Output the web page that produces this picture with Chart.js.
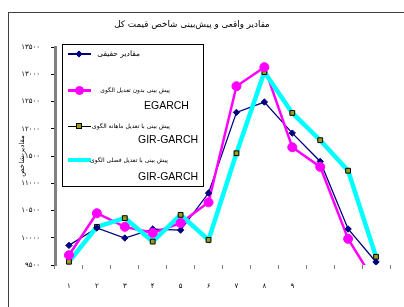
<!DOCTYPE html>
<html>
<head>
<meta charset="utf-8">
<script src="https://cdn.jsdelivr.net/npm/chart.js@4/dist/chart.umd.min.js"></script>
<style>
  html, body { margin: 0; padding: 0; background: #fff; }
  #wrap { position: relative; width: 404px; height: 307px; overflow: hidden; background: #fff; }
  #c { position: absolute; left: 0; top: 0; }
  #frame { position: absolute; left: 8px; top: 12px; width: 420px; height: 320px; border-left: 1px solid #404040; border-top: 1px solid #404040; }
  .fa { font-family: "DejaVu Sans", sans-serif; font-size: 6px; color: #000; white-space: nowrap; direction: rtl; position: absolute; line-height: 1; }
  .la { font-family: "Liberation Sans", Arial, sans-serif; font-size: 10.5px; color: #000; white-space: nowrap; position: absolute; line-height: 1; }
  #title { position: absolute; top: 19px; left: 0; width: 384px; text-align: center; font-family: "DejaVu Sans", sans-serif; font-size: 8.8px; direction: rtl; white-space: nowrap; }
  #legend { position: absolute; left: 62px; top: 44px; width: 142px; height: 143px; box-sizing: border-box; border: 1px solid #000; background: #fff; }
  .ln { position: absolute; }
  .mk { position: absolute; box-sizing: border-box; }
</style>
</head>
<body>
<div id="wrap">
  <canvas id="c" width="404" height="307"></canvas>
  <div id="frame"></div>
  <div id="title">مقادیر واقعی و پیش‌بینی شاخص قیمت کل</div>
  <div id="legend"></div>
</div>
<script>
// ---- data ----
const categories = ['۱','۲','۳','۴','۵','۶','۷','۸','۹','','',''];
const yTickLabels = ['۹۵۰۰','۱۰۰۰۰','۱۰۵۰۰','۱۱۰۰۰','۱۱۵۰۰','۱۲۰۰۰','۱۲۵۰۰','۱۳۰۰۰','۱۳۵۰۰'];
const actualValues   = [9860, 10180, 9995, 10160, 10140, 10820, 12300, 12490, 11920, 11400, 10160, 9555];
const egarchValues   = [9680, 10450, 10200, 10090, 10270, 10650, 12780, 13130, 11660, 11300, 9980, 9150];
const monthlyValues  = [9560, 10200, 10360, 9930, 10420, 9960, 11550, 13040, 12290, 11790, 11230, 9650];
const seasonalValues = [9560, 10200, 10360, 9930, 10420, 9960, 11550, 13040, 12290, 11790, 11230, 9650];
const seriesNames = [
  ['مقادیر حقیقی', ''],
  ['پیش بینی بدون تعدیل الگوی', 'EGARCH'],
  ['پیش بینی با تعدیل ماهانه الگوی', 'GIR-GARCH'],
  ['پیش بینی با تعدیل فصلی الگوی', 'GIR-GARCH']
];
const yTitle = 'مقادیر شاخص';

const NAVY = '#000080', MAG = '#FF00FF', CYAN = '#00FFFF', BLK = '#000000', OLIVE = '#9C9C1C';

const lineOnly = (data, color, w, order) => ({
  data, borderColor: color, backgroundColor: color, borderWidth: w,
  pointRadius: 0, pointHoverRadius: 0, tension: 0, order
});
const markOnly = (data, style, r, fill, border, bw) => ({
  data, showLine: false, pointStyle: style, pointRadius: r, pointHoverRadius: r,
  pointBackgroundColor: fill, pointBorderColor: border, pointBorderWidth: bw,
  borderColor: border, backgroundColor: fill, order: 0
});

new Chart(document.getElementById('c'), {
  type: 'line',
  data: {
    labels: categories,
    datasets: [
      markOnly(egarchValues, 'circle', 4.5, MAG, MAG, 1),
      markOnly(actualValues, 'rectRot', 3.2, NAVY, NAVY, 1),
      markOnly(monthlyValues, 'rect', 3.4, OLIVE, BLK, 1),
      lineOnly(seasonalValues, CYAN, 4.5, 1),
      lineOnly(monthlyValues, BLK, 1, 2),
      lineOnly(egarchValues, MAG, 2.5, 3),
      lineOnly(actualValues, NAVY, 1.3, 4)
    ]
  },
  options: {
    responsive: false,
    animation: false,
    devicePixelRatio: 1,
    layout: { padding: { top: 47, right: 14, bottom: 0, left: 0 } },
    plugins: { legend: { display: false }, title: { display: false }, tooltip: { enabled: false } },
    scales: {
      x: {
        type: 'category',
        offset: true,
        afterFit: s => { s.height = 42; },
        grid: { display: true, drawOnChartArea: false, offset: true, tickLength: 4, color: '#808080', lineWidth: 1 },
        border: { display: false },
        ticks: { font: { family: 'DejaVu Sans', size: 7 }, color: '#000', padding: 13, maxRotation: 0, autoSkip: false }
      },
      y: {
        min: 9500, max: 13500,
        afterFit: s => { s.width = 55; },
        grid: { display: true, drawOnChartArea: false, tickLength: 4, color: '#000', lineWidth: 1 },
        border: { display: true, color: '#808080', width: 3 },
        ticks: {
          stepSize: 500, padding: 11,
          font: { family: 'DejaVu Sans', size: 7 }, color: '#000',
          callback: (v, i) => yTickLabels[i]
        },
        title: { display: true, text: yTitle, font: { family: 'DejaVu Sans', size: 7 }, color: '#000', padding: { top: 18, bottom: 0 } }
      }
    }
  }
});

// ---- legend (HTML) ----
const lg = document.getElementById('legend');
const L = 62, T = 44;
const entries = [
  { y: 53, color: NAVY, w: 2, mk: { size: 6, fill: NAVY, border: NAVY, shape: 'diamond' }, textRight: 141, fs: 7.5, sub: null },
  { y: 89, color: MAG, w: 3, mk: { size: 9, fill: MAG, border: MAG, shape: 'circle' }, textRight: 171, fs: 6, sub: { x: 143, y: 105 } },
  { y: 125, color: BLK, w: 1, mk: { size: 6, fill: OLIVE, border: BLK, shape: 'square' }, textRight: 171, fs: 6, sub: { x: 137, y: 139 } },
  { y: 159, color: CYAN, w: 4.5, mk: null, textRight: 169, fs: 6, sub: { x: 137, y: 176 } }
];
entries.forEach((e, i) => {
  const ln = document.createElement('div');
  ln.className = 'ln';
  ln.style.left = (67 - L) + 'px';
  ln.style.width = '23px';
  ln.style.top = (e.y - e.w / 2 - T) + 'px';
  ln.style.height = e.w + 'px';
  ln.style.background = e.color;
  lg.appendChild(ln);
  if (e.mk) {
    const m = document.createElement('div');
    m.className = 'mk';
    const s = e.mk.size;
    m.style.width = s + 'px'; m.style.height = s + 'px';
    m.style.left = (78 - s / 2 - L) + 'px';
    m.style.top = (e.y - s / 2 - T) + 'px';
    m.style.background = e.mk.fill;
    m.style.border = '1px solid ' + e.mk.border;
    if (e.mk.shape === 'circle') m.style.borderRadius = '50%';
    if (e.mk.shape === 'diamond') { m.style.transform = 'rotate(45deg) scale(0.8)'; }
    lg.appendChild(m);
  }
  const t = document.createElement('div');
  t.className = 'fa';
  t.style.fontSize = e.fs + 'px';
  t.textContent = seriesNames[i][0];
  t.style.right = (L + 142 - e.textRight) + 'px';
  t.style.top = (e.y - e.fs / 2 - 0.5 - T) + 'px';
  lg.appendChild(t);
  if (e.sub) {
    const s2 = document.createElement('div');
    s2.className = 'la';
    s2.textContent = seriesNames[i][1];
    s2.style.left = (e.sub.x - L) + 'px';
    s2.style.top = (e.sub.y - 6 - T) + 'px';
    lg.appendChild(s2);
  }
});
</script>
</body>
</html>
